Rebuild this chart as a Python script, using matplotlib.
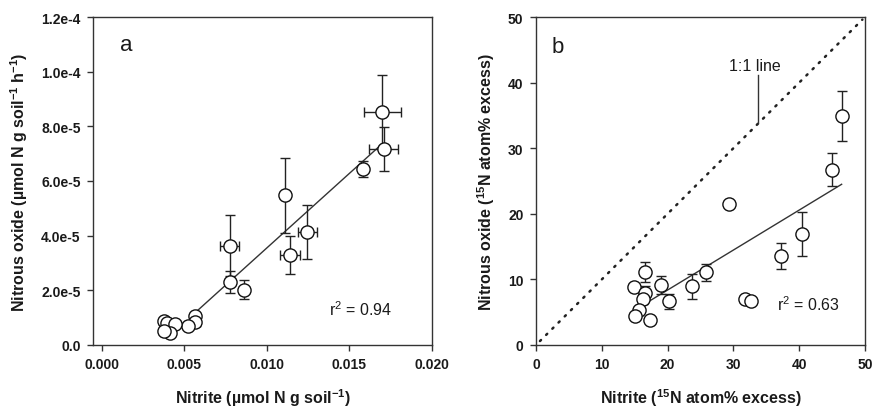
import numpy as np
import matplotlib
matplotlib.use("Agg")
import matplotlib.pyplot as plt

plt.rcParams['font.family'] = ['Liberation Sans', 'DejaVu Sans']
plt.rcParams['mathtext.default'] = 'regular'

# ---- Panel a data ----
a_x = [0.0170, 0.01707, 0.01582, 0.01107, 0.01246, 0.01141, 0.00774, 0.00778, 0.00863,
       0.00566, 0.00566, 0.00525, 0.00374, 0.00394, 0.00444, 0.00414, 0.00380]
a_y = [8.51e-5, 7.18e-5, 6.45e-5, 5.47e-5, 4.13e-5, 3.30e-5, 3.64e-5, 2.30e-5, 2.03e-5,
       1.07e-5, 8.3e-6, 7.1e-6, 8.9e-6, 7.9e-6, 7.7e-6, 4.3e-6, 5.3e-6]
a_xerr = [0.00114, 0.00088, 0.0, 0.0, 0.0006, 0.0006, 0.00055, 0.0, 0.0,
          0.0, 0.0003, 0.0, 0.0, 0.0, 0.0, 0.0, 0.0]
a_yerr = [1.35e-5, 8.0e-6, 3.0e-6, 1.38e-5, 1.0e-5, 7.0e-6, 1.1e-5, 4.0e-6, 3.5e-6,
          1.5e-6, 1.0e-6, 0.0, 0.0, 0.0, 0.0, 0.0, 0.0]
a_fit_x = [0.00545, 0.01687]
a_fit_y = [1.07e-5, 7.30e-5]
a_xticks = [0.0, 0.005, 0.010, 0.015, 0.020]
a_xticklabels = ['0.000', '0.005', '0.010', '0.015', '0.020']
a_yticks = [0.0, 2e-5, 4e-5, 6e-5, 8e-5, 1e-4, 1.2e-4]
a_yticklabels = ['0.0', '2.0e-5', '4.0e-5', '6.0e-5', '8.0e-5', '1.0e-4', '1.2e-4']

# ---- Panel b data ----
b_x = [46.45, 45.0, 29.4, 40.4, 37.2, 25.8, 23.7, 20.15, 19.0, 16.6, 14.9,
       16.5, 16.25, 15.7, 15.0, 17.25, 31.7, 32.7]
b_y = [34.9, 26.75, 21.5, 16.9, 13.6, 11.1, 8.95, 6.66, 9.15, 11.1, 8.9,
       8.0, 7.0, 5.3, 4.4, 3.8, 7.0, 6.66]
b_yerr = [3.8, 2.5, 0.0, 3.3, 2.0, 1.3, 1.9, 1.1, 1.3, 1.5, 0.0,
          1.0, 0.8, 0.0, 0.0, 0.0, 0.0, 0.0]
b_fit_x = [16.75, 46.45]
b_fit_y = [6.4, 24.5]
b_one_x = [0.6, 49.6]
b_one_y = [0.6, 49.6]
b_ticks = [0, 10, 20, 30, 40, 50]

txt = '#1a1a1a'
fig = plt.figure(figsize=(8.77, 4.14), dpi=100)
axa = fig.add_axes([93/877, 68/414, 339/877, 328/414])
axb = fig.add_axes([536/877, 68/414, 329/877, 328/414])

mk = dict(fmt='o', ms=9.5, mfc='white', mec='#111111', mew=1.0, ecolor='#222222',
          elinewidth=1.0, capsize=3.5, capthick=1.0, zorder=3)

# panel a
axa.plot(a_fit_x, a_fit_y, color='#333333', lw=1.0, zorder=2)
axa.errorbar(a_x, a_y, xerr=a_xerr, yerr=a_yerr, **mk)
axa.set_xlim(-0.00053, 0.020)
axa.set_ylim(0, 1.2e-4)
axa.set_xticks(a_xticks)
axa.set_xticklabels(a_xticklabels)
axa.set_yticks(a_yticks)
axa.set_yticklabels(a_yticklabels)
axa.text(0.0011, 1.1e-4, 'a', fontsize=16, color=txt, va='center', ha='left')
axa.text(0.01374, 1.32e-5, 'r$^2$ = 0.94', fontsize=11.5, color=txt, va='center', ha='left')
axa.set_xlabel('Nitrite (µmol N g soil$^{-1}$)', fontsize=11.5, fontweight='bold', color=txt, labelpad=11)
axa.set_ylabel('Nitrous oxide (µmol N g soil$^{-1}$ h$^{-1}$)', fontsize=11.5, fontweight='bold', color=txt, labelpad=8)

# panel b
axb.plot(b_one_x, b_one_y, color='#222222', lw=1.8, linestyle=(0, (0.6, 2.9)),
         dash_capstyle='round', zorder=1)
axb.plot(b_fit_x, b_fit_y, color='#333333', lw=1.0, zorder=2)
axb.errorbar(b_x, b_y, yerr=b_yerr, **mk)
axb.plot([33.7, 33.7], [41.2, 33.9], color='#333333', lw=1.0)
axb.text(33.2, 42.6, '1:1 line', fontsize=11.5, color=txt, ha='center', va='center')
axb.text(36.6, 6.3, 'r$^2$ = 0.63', fontsize=11.5, color=txt, va='center', ha='left')
axb.text(2.3, 45.5, 'b', fontsize=16, color=txt, va='center', ha='left')
axb.set_xlim(0, 50)
axb.set_ylim(0, 50)
axb.set_xticks(b_ticks)
axb.set_yticks(b_ticks)
axb.set_xlabel('Nitrite ($^{15}$N atom% excess)', fontsize=11.5, fontweight='bold', color=txt, labelpad=11)
axb.set_ylabel('Nitrous oxide ($^{15}$N atom% excess)', fontsize=11.5, fontweight='bold', color=txt, labelpad=8)

for ax in (axa, axb):
    for s in ax.spines.values():
        s.set_color('#333333')
        s.set_linewidth(1.0)
    ax.tick_params(direction='out', length=4, width=1.0, color='#333333',
                   labelsize=10, labelcolor=txt, pad=5)
    for lab in ax.get_xticklabels() + ax.get_yticklabels():
        lab.set_fontweight('bold')

fig.savefig('out.png', dpi=100)
